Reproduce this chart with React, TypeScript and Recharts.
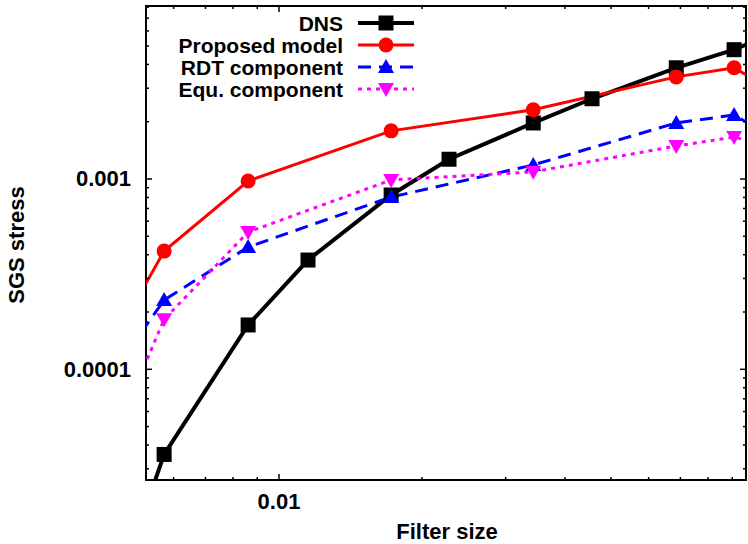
import React from 'react';
import { LineChart, Line, XAxis, YAxis, ReferenceArea, Legend, Customized } from 'recharts';

// filter sizes (log axis) and SGS stress values
const dnsFilter = [0.0043, 0.00573, 0.00861, 0.01151, 0.01722, 0.0228, 0.0343, 0.0456, 0.0686, 0.0908, 0.136];
const dnsStress = [4.55e-6, 3.57e-5, 1.71e-4, 3.75e-4, 8.24e-4, 1.27e-3, 1.97e-3, 2.64e-3, 3.84e-3, 4.78e-3, 7.3e-3];

const modelFilter = [0.0043, 0.00573, 0.00861, 0.01722, 0.0343, 0.0686, 0.0908, 0.136];
const proposedStress = [1.17e-4, 4.18e-4, 9.76e-4, 1.79e-3, 2.31e-3, 3.44e-3, 3.84e-3, 2.15e-3];
const rdtStress = [8.4e-5, 2.31e-4, 4.39e-4, 8.04e-4, 1.185e-3, 1.97e-3, 2.17e-3, 1.21e-3];
const equStress = [3.4e-5, 1.83e-4, 5.26e-4, 9.88e-4, 1.09e-3, 1.49e-3, 1.66e-3, 1.29e-3];

const xTicks = [0.006, 0.007, 0.008, 0.009, 0.01, 0.02, 0.03, 0.04, 0.05, 0.06, 0.07, 0.08, 0.09];
const yTicks = [
  3e-5, 4e-5, 5e-5, 6e-5, 7e-5, 8e-5, 9e-5,
  1e-4, 2e-4, 3e-4, 4e-4, 5e-4, 6e-4, 7e-4, 8e-4, 9e-4,
  1e-3, 2e-3, 3e-3, 4e-3, 5e-3, 6e-3, 7e-3, 8e-3,
];

const X_DOMAIN: [number, number] = [0.005248, 0.0962];
const Y_DOMAIN: [number, number] = [2.62e-5, 8.11e-3];

const W = 748;
const H = 544;
const MARGIN = { top: 6, right: 2, left: 0, bottom: 0 };
const Y_AXIS_W = 146;
const X_AXIS_H = 64;
const PLOT_W = W - MARGIN.left - MARGIN.right - Y_AXIS_W;
const PLOT_H = H - MARGIN.top - MARGIN.bottom - X_AXIS_H;

const FONT = '"Liberation Sans", Arial, Helvetica, sans-serif';
const FONT_SIZE = 22;
const LEGEND_FONT_SIZE = 21;

const zip = (xs: number[], ys: number[]) => xs.map((x, i) => ({ x, y: ys[i] }));

type Shape = 'square' | 'circle' | 'up' | 'down';

const series = [
  { name: 'DNS', color: '#000000', width: 4, dash: undefined as string | undefined, shape: 'square' as Shape, data: zip(dnsFilter, dnsStress) },
  { name: 'Proposed model', color: '#ff0000', width: 3, dash: undefined, shape: 'circle' as Shape, data: zip(modelFilter, proposedStress) },
  { name: 'RDT component', color: '#0000ff', width: 3, dash: '13 8', shape: 'up' as Shape, data: zip(modelFilter, rdtStress) },
  { name: 'Equ. component', color: '#ff00ff', width: 3, dash: '4 5', shape: 'down' as Shape, data: zip(modelFilter, equStress) },
];

function marker(shape: Shape, cx: number, cy: number, color: string, key?: React.Key) {
  switch (shape) {
    case 'square':
      return <rect key={key} x={cx - 7.5} y={cy - 7.5} width={15} height={15} fill={color} />;
    case 'circle':
      return <circle key={key} cx={cx} cy={cy} r={7.5} fill={color} />;
    case 'up':
      return <polygon key={key} points={`${cx},${cy - 8} ${cx + 8},${cy + 6} ${cx - 8},${cy + 6}`} fill={color} />;
    default:
      return <polygon key={key} points={`${cx},${cy + 8} ${cx + 8},${cy - 6} ${cx - 8},${cy - 6}`} fill={color} />;
  }
}

const isMajor = (v: number) => Math.abs(Math.log10(v) - Math.round(Math.log10(v))) < 1e-9;

function XTick({ x, y, payload }: any) {
  const major = isMajor(payload.value);
  const len = major ? 6 : 3;
  return (
    <g>
      <line x1={x} x2={x} y1={y} y2={y - len} stroke="#000" strokeWidth={1.5} />
      <line x1={x} x2={x} y1={y - PLOT_H} y2={y - PLOT_H + len} stroke="#000" strokeWidth={1.5} />
      {major && (
        <text x={x} y={y + 29} textAnchor="middle" fontFamily={FONT} fontWeight="bold" fontSize={FONT_SIZE} fill="#000">
          {String(payload.value)}
        </text>
      )}
    </g>
  );
}

function YTick({ x, y, payload }: any) {
  const major = isMajor(payload.value);
  const len = major ? 6 : 3;
  return (
    <g>
      <line x1={x} x2={x + len} y1={y} y2={y} stroke="#000" strokeWidth={1.5} />
      <line x1={x + PLOT_W} x2={x + PLOT_W - len} y1={y} y2={y} stroke="#000" strokeWidth={1.5} />
      {major && (
        <text x={x - 15} y={y + 7.5} textAnchor="end" fontFamily={FONT} fontWeight="bold" fontSize={FONT_SIZE} fill="#000">
          {String(payload.value)}
        </text>
      )}
    </g>
  );
}

function LegendBox() {
  return (
    <svg width={W} height={110} style={{ display: 'block' }}>
      {series.map((s, i) => {
        const cy = 23 + i * 22;
        return (
          <g key={s.name}>
            <text x={343} y={cy + 7.5} textAnchor="end" fontFamily={FONT} fontWeight="bold" fontSize={LEGEND_FONT_SIZE} fill="#000">
              {s.name}
            </text>
            <line x1={358} x2={414} y1={cy} y2={cy} stroke={s.color} strokeWidth={s.width} strokeDasharray={s.dash} />
            {marker(s.shape, 386, cy, s.color)}
          </g>
        );
      })}
    </svg>
  );
}

function AxisTitles() {
  return (
    <g fontFamily={FONT} fontWeight="bold" fontSize={FONT_SIZE} fill="#000">
      <text x={447} y={539} textAnchor="middle">Filter size</text>
      <text x={24} y={245} textAnchor="middle" transform="rotate(-90 24 245)">SGS stress</text>
    </g>
  );
}

export default function App() {
  return (
    <div style={{ position: 'absolute', left: 0, top: 0, background: '#fff' }}>
      <LineChart width={W} height={H} margin={MARGIN}>
        <XAxis
          dataKey="x"
          type="number"
          scale="log"
          domain={X_DOMAIN}
          allowDataOverflow
          ticks={xTicks}
          interval={0}
          height={X_AXIS_H}
          axisLine={false}
          tickLine={false}
          tickSize={0}
          tickMargin={0}
          tick={<XTick />}
        />
        <YAxis
          dataKey="y"
          type="number"
          scale="log"
          domain={Y_DOMAIN}
          allowDataOverflow
          ticks={yTicks}
          interval={0}
          width={Y_AXIS_W}
          axisLine={false}
          tickLine={false}
          tickSize={0}
          tickMargin={0}
          tick={<YTick />}
        />
        <ReferenceArea
          x1={X_DOMAIN[0]}
          x2={X_DOMAIN[1]}
          y1={Y_DOMAIN[0]}
          y2={Y_DOMAIN[1]}
          ifOverflow="visible"
          fill="none"
          stroke="#000"
          strokeWidth={2}
        />
        {series.map((s) => (
          <Line
            key={s.name}
            data={s.data}
            dataKey="y"
            name={s.name}
            stroke={s.color}
            strokeWidth={s.width}
            strokeDasharray={s.dash}
            isAnimationActive={false}
            dot={(p: any) => marker(s.shape, p.cx, p.cy, s.color, `${s.name}-${p.index}`)}
            activeDot={false}
          />
        ))}
        <Legend
          layout="vertical"
          align="center"
          verticalAlign="middle"
          wrapperStyle={{ left: 0, top: 0, width: W, height: 110 }}
          content={() => <LegendBox />}
        />
        <Customized component={AxisTitles} />
      </LineChart>
    </div>
  );
}
